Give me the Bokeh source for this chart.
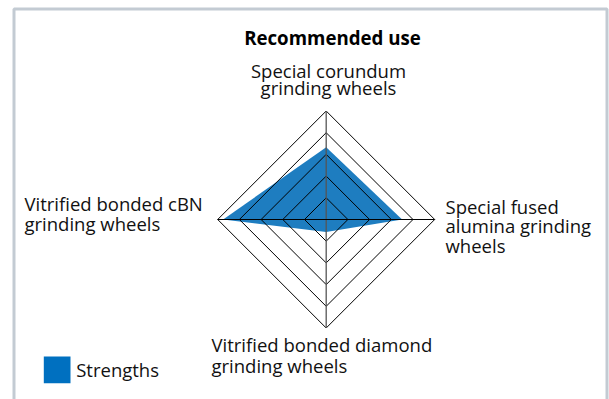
import numpy as np
from bokeh.plotting import figure
from bokeh.models import Range1d
from bokeh.core.properties import value
from bokeh.embed import file_html
from bokeh.resources import INLINE

# ---- data ----
categories = [
    "Special corundum grinding wheels",
    "Special fused alumina grinding wheels",
    "Vitrified bonded diamond grinding wheels",
    "Vitrified bonded cBN grinding wheels",
]
strengths = [3.33, 3.5, 0.58, 4.75]
ring_levels = [1, 2, 3, 4, 5]
angles_deg = [90, 0, 270, 180]
title_text = "Recommended use"
legend_label = "Strengths"

# ---- layout (image pixel -> data units) ----
W, H = 609, 399
OX, OY = 0, 0             # observed page offset of the figure
CX, CY = 325.7, 219.0     # image position of centre
U = 21.7                  # pixels per ring unit
FONT = "Open Sans"
TY = -7.5                 # baseline correction for text glyphs

def dx(px):
    return (px - CX) / U

def dy(py):
    return (CY - py) / U

def ty(py):
    return dy(py + TY)

p = figure(width=W, height=H, output_backend="svg", toolbar_location=None,
           x_range=Range1d(dx(OX), dx(OX + W)), y_range=Range1d(dy(OY + H), dy(OY)),
           min_border=0, outline_line_color=None)
p.axis.visible = False
p.grid.visible = False
p.background_fill_color = "white"
p.border_fill_color = "white"

# outer panel border
bx = [dx(13.5), dx(13.5), dx(606.5), dx(606.5)]
by = [dy(420), dy(8.5), dy(8.5), dy(420)]
p.line(bx, by, line_color="#c3cbd3", line_width=3)

ang = np.radians(angles_deg)
cosa, sina = np.cos(ang), np.sin(ang)

# strengths polygon
sx = [v * c for v, c in zip(strengths, cosa)]
sy = [v * s for v, s in zip(strengths, sina)]
p.patch(sx, sy, fill_color="#1e7dc0", line_color=None)

# rings
rmax = max(ring_levels)
for r in ring_levels:
    xs = [r * c for c in cosa] + [r * cosa[0]]
    ys = [r * s for s in sina] + [r * sina[0]]
    p.line(xs, ys, line_color="black", line_width=1)

# axes
p.line([0, 0], [rmax * sina[2], rmax * sina[0]], line_color="#555555", line_width=1.3)
p.line([rmax * cosa[3], rmax * cosa[1]], [0, 0], line_color="black", line_width=1)

# title
p.text([dx(332)], [ty(44)], text=[title_text], text_align="center",
       text_baseline="alphabetic", text_font=value(FONT), text_font_style="bold",
       text_font_size="18.7px", text_color="black")

def label(lines, xpx, baselines, align):
    p.text([dx(xpx)] * len(lines), [ty(b) for b in baselines], text=lines,
           text_align=align, text_baseline="alphabetic", text_font=value(FONT),
           text_font_size="18.5px", text_color="#111111")

# axis labels (split into the lines shown)
label(["Special corundum", "grinding wheels"], 328, [77.5, 94.5], "center")
label(["Special fused", "alumina grinding", "wheels"], 445, [213.3, 232.5, 252.5], "left")
label(["Vitrified bonded diamond", "grinding wheels"], 211, [351, 372], "left")
label(["Vitrified bonded cBN", "grinding wheels"], 24, [210.7, 230.7], "left")

# legend
p.quad(left=[dx(43.3)], right=[dx(70)], top=[dy(356)], bottom=[dy(382.7)],
       fill_color="#0070c0", line_color=None)
p.text([dx(75.7)], [ty(376.7)], text=[legend_label], text_align="left",
       text_baseline="alphabetic", text_font=value(FONT), text_font_size="18.5px",
       text_color="#111111")

open("out.html", "w").write(file_html(p, INLINE))
